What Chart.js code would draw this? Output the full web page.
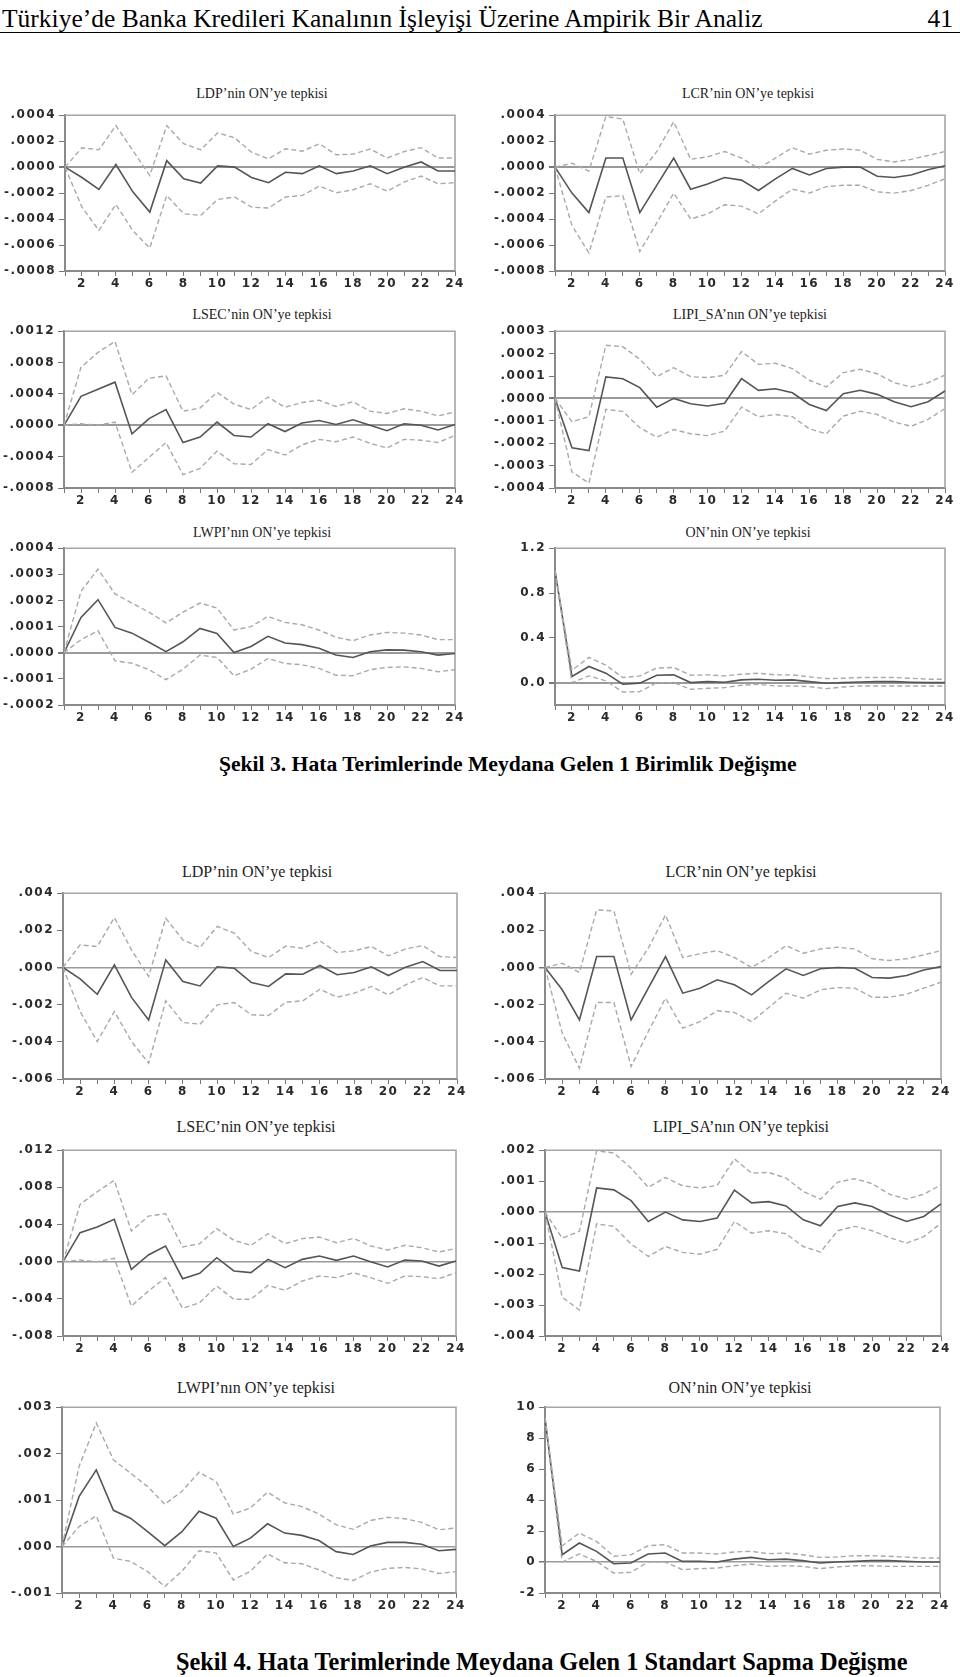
<!DOCTYPE html>
<html><head><meta charset="utf-8">
<script src="https://cdn.jsdelivr.net/npm/chart.js@4.4.1/dist/chart.umd.min.js"></script>
<style>
html,body{margin:0;padding:0;background:#fff;}
body{width:960px;height:1677px;position:relative;overflow:hidden;}
.abs{position:absolute;}
.hdr{font-family:"Liberation Serif","Times New Roman",serif;font-size:25.5px;color:#000;white-space:nowrap;line-height:1;}
.rule{left:0;width:960px;height:1px;background:#000;top:32px;}
.ttl{font-family:"Liberation Serif","Times New Roman",serif;color:#222;white-space:nowrap;transform:translate(-50%,-50%);line-height:1;}
.cap{font-family:"Liberation Serif","Times New Roman",serif;font-weight:bold;color:#000;white-space:nowrap;line-height:1;transform:translateY(-50%);}
</style>
</head><body>
<div class="abs hdr" style="left:2px;top:6px;">Türkiye’de Banka Kredileri Kanalının İşleyişi Üzerine Ampirik Bir Analiz</div>
<div class="abs hdr" style="right:7px;top:6px;">41</div>
<div class="abs rule"></div>
<div class="abs cap" style="left:219px;top:765px;font-size:21.6px;">Şekil 3. Hata Terimlerinde Meydana Gelen 1 Birimlik Değişme</div>
<div class="abs cap" style="left:176px;top:1662px;font-size:24.3px;">Şekil 4. Hata Terimlerinde Meydana Gelen 1 Standart Sapma Değişme</div>
<script>
// ---------- categories ----------
const PERIODS = [1,2,3,4,5,6,7,8,9,10,11,12,13,14,15,16,17,18,19,20,21,22,23,24];

// ---------- Şekil 3 ----------
const LDP3_RESP = [0,-0.00008,-0.000172,0.00002,-0.00019,-0.000346,0.00005,-0.00009,-0.000123,0.00001,0,-0.00008,-0.00012,-0.00004,-0.00005,0.00001,-0.00005,-0.00003,0.00001,-0.00005,0,0.00004,-0.00003,-0.00003];
const LDP3_UP   = [0,0.000149,0.000133,0.00032,0.000128,-0.000064,0.00032,0.00018,0.000133,0.000264,0.000226,0.000115,0.000064,0.000141,0.000123,0.00018,0.000095,0.0001,0.00014,0.00007,0.00012,0.00015,0.00007,0.00007];
const LDP3_LO   = [0,-0.000308,-0.000487,-0.000287,-0.00049,-0.000623,-0.000218,-0.000359,-0.000372,-0.000249,-0.00023,-0.000308,-0.000315,-0.00023,-0.000218,-0.000146,-0.000197,-0.000174,-0.000128,-0.000185,-0.000115,-0.000069,-0.000128,-0.00012];
const LDP3_YTICKS = ['-.0008','-.0006','-.0004','-.0002','.0000','.0002','.0004'];

const LCR3_RESP = [0,-0.0002,-0.00035,0.00007,0.00007,-0.00035,-0.00014,0.00007,-0.00017,-0.00013,-0.00008,-0.0001,-0.00018,-0.00009,-0.00001,-0.00006,-0.00001,0,0,-0.00007,-0.00008,-0.00006,-0.00002,0.00001];
const LCR3_UP   = [0,0.00003,-0.00003,0.00039,0.00037,-0.00005,0.00012,0.00035,0.00006,0.00008,0.00012,0.00007,-0.00001,0.00007,0.00015,0.0001,0.00013,0.00014,0.00013,0.00006,0.00004,0.00006,0.00009,0.00012];
const LCR3_LO   = [0,-0.00045,-0.00066,-0.00023,-0.00022,-0.00065,-0.00043,-0.0002,-0.0004,-0.00036,-0.00029,-0.0003,-0.00036,-0.00026,-0.00017,-0.0002,-0.00015,-0.00014,-0.00014,-0.00019,-0.0002,-0.00018,-0.00014,-0.00009];
const LCR3_YTICKS = ['-.0008','-.0006','-.0004','-.0002','.0000','.0002','.0004'];

const LSEC3_RESP = [0,0.00037,0.00046,0.00055,-0.00011,0.000086,0.0002,-0.00022,-0.00015,0.00004,-0.00013,-0.00015,0.00002,-0.00008,0.00003,0.00006,0.00001,0.00007,0,-0.00007,0.00002,0,-0.00006,0.00001];
const LSEC3_UP   = [0,0.00074,0.00093,0.00107,0.00039,0.0006,0.00063,0.00018,0.00022,0.00042,0.00027,0.0002,0.00036,0.00023,0.00029,0.00032,0.00024,0.0003,0.00018,0.00015,0.00021,0.00018,0.00012,0.00017];
const LSEC3_LO   = [0,0.00002,0,0.00004,-0.0006,-0.00041,-0.00022,-0.00063,-0.00055,-0.00033,-0.00049,-0.0005,-0.00031,-0.00038,-0.00025,-0.00018,-0.00021,-0.00015,-0.00023,-0.00029,-0.00018,-0.00019,-0.00022,-0.00013];
const LSEC3_YTICKS = ['-.0008','-.0004','.0000','.0004','.0008','.0012'];

const LIPI3_RESP = [0,-0.00022,-0.000233,0.000096,0.000088,0.000048,-0.000039,0,-0.000024,-0.000034,-0.000022,0.000088,0.000036,0.000043,0.000025,-0.000027,-0.000054,0.000021,0.000036,0.000018,-0.000015,-0.000037,-0.000015,0.000033];
const LIPI3_UP   = [0,-0.000104,-0.000082,0.000237,0.000231,0.000175,0.000097,0.000137,0.000097,0.000093,0.000103,0.000209,0.000152,0.000157,0.000133,0.000081,0.000051,0.000115,0.00013,0.00011,0.00007,0.000051,0.00007,0.000104];
const LIPI3_LO   = [0,-0.000328,-0.000378,-0.000049,-0.000058,-0.000131,-0.000173,-0.000139,-0.000158,-0.000166,-0.000146,-0.000039,-0.000082,-0.000072,-0.000082,-0.000136,-0.000158,-0.000079,-0.000057,-0.000072,-0.000106,-0.000124,-0.000094,-0.000045];
const LIPI3_YTICKS = ['-.0004','-.0003','-.0002','-.0001','.0000','.0001','.0002','.0003'];

const LWPI3_RESP = [0,0.000135,0.000203,0.000097,0.000075,0.00004,0.000004,0.000042,0.000093,0.000074,0.000001,0.000024,0.000063,0.000037,0.000031,0.000017,-0.000009,-0.000018,0.000004,0.000011,0.00001,0.000004,-0.000009,-0.000003];
const LWPI3_UP   = [0,0.000235,0.00032,0.000225,0.00019,0.000155,0.000114,0.000155,0.00019,0.000171,0.000087,0.0001,0.000139,0.000116,0.000107,0.000087,0.000059,0.000046,0.000068,0.000078,0.000075,0.000068,0.00005,0.00005];
const LWPI3_LO   = [0,0.00005,0.000084,-0.000031,-0.00004,-0.000065,-0.000103,-0.000063,-0.000009,-0.000018,-0.000088,-0.000063,-0.000022,-0.000041,-0.000046,-0.00006,-0.000086,-0.000088,-0.000065,-0.000056,-0.000054,-0.00006,-0.000073,-0.000065];
const LWPI3_YTICKS = ['-.0002','-.0001','.0000','.0001','.0002','.0003','.0004'];

const ON3_RESP = [1.0,0.054,0.144,0.084,-0.015,-0.005,0.066,0.069,0,0.009,0.003,0.024,0.03,0.021,0.024,0.009,-0.006,0,0.006,0.009,0.009,0.003,0,0];
const ON3_UP   = [1.0,0.11,0.225,0.156,0.045,0.06,0.13,0.135,0.066,0.069,0.06,0.075,0.084,0.069,0.069,0.051,0.036,0.039,0.045,0.045,0.045,0.039,0.03,0.03];
const ON3_LO   = [1.0,0,0.06,0.015,-0.084,-0.081,0,0,-0.06,-0.051,-0.045,-0.024,-0.015,-0.03,-0.03,-0.036,-0.054,-0.039,-0.03,-0.03,-0.03,-0.03,-0.03,-0.03];
const ON3_YTICKS = ['0.0','0.4','0.8','1.2'];
const ON3_YMIN = -0.2;

// ---------- Şekil 4 ----------
const LDP4_RESP = [0,-0.00061,-0.00144,0.00014,-0.00161,-0.00282,0.00041,-0.00075,-0.00099,0.00004,-0.00004,-0.00081,-0.00102,-0.00034,-0.00036,0.00011,-0.00039,-0.00027,0.00004,-0.00043,0.00002,0.00032,-0.00016,-0.00016];
const LDP4_UP   = [0,0.00122,0.00113,0.00269,0.00095,-0.00048,0.00265,0.00149,0.00108,0.00221,0.00185,0.00086,0.00054,0.00115,0.00104,0.00143,0.00081,0.0009,0.00113,0.00063,0.001,0.00118,0.00059,0.00054];
const LDP4_LO   = [0,-0.00237,-0.00398,-0.00237,-0.00398,-0.00515,-0.00179,-0.00296,-0.00305,-0.00201,-0.00188,-0.00255,-0.00258,-0.00187,-0.00179,-0.00117,-0.0016,-0.00138,-0.00102,-0.00147,-0.00093,-0.00054,-0.00099,-0.00099];
const LDP4_YTICKS = ['-.006','-.004','-.002','.000','.002','.004'];

const LCR4_RESP = [0,-0.0012,-0.00282,0.00059,0.00059,-0.00282,-0.00111,0.00059,-0.00138,-0.00111,-0.00066,-0.00093,-0.00147,-0.00075,-0.00007,-0.00043,-0.00007,0,-0.00004,-0.00054,-0.00057,-0.00043,-0.00013,0.00005];
const LCR4_UP   = [0,0.00023,-0.00027,0.0031,0.00305,-0.00036,0.00104,0.00283,0.00054,0.00074,0.00091,0.00054,0,0.00054,0.00118,0.00077,0.001,0.00109,0.001,0.00047,0.00038,0.00047,0.00068,0.00091];
const LCR4_LO   = [0,-0.00353,-0.00542,-0.00188,-0.00188,-0.00533,-0.00344,-0.00165,-0.00326,-0.00291,-0.00233,-0.00242,-0.00291,-0.00215,-0.00138,-0.00165,-0.0012,-0.00108,-0.00111,-0.0016,-0.0016,-0.00144,-0.00111,-0.00079];
const LCR4_YTICKS = ['-.006','-.004','-.002','.000','.002','.004'];

const LSEC4_RESP = [0,0.00312,0.00373,0.00456,-0.00083,0.00072,0.00169,-0.00183,-0.00126,0.00043,-0.001,-0.00118,0.00025,-0.00065,0.00025,0.00061,0.00014,0.00061,0,-0.00057,0.00018,0.00007,-0.00047,0.00007];
const LSEC4_UP   = [0,0.00617,0.00753,0.00875,0.0033,0.00491,0.00517,0.00158,0.00194,0.00355,0.0023,0.00176,0.00301,0.00194,0.00248,0.00265,0.00204,0.00251,0.00169,0.00126,0.00176,0.00151,0.00104,0.00143];
const LSEC4_LO   = [0,0.00018,0,0.00036,-0.00477,-0.00316,-0.00172,-0.00502,-0.00441,-0.00262,-0.00405,-0.00405,-0.00255,-0.00308,-0.00208,-0.00154,-0.00172,-0.00118,-0.00172,-0.00233,-0.00154,-0.00161,-0.00183,-0.00118];
const LSEC4_YTICKS = ['-.008','-.004','.000','.004','.008','.012'];

const LIPI4_RESP = [0,-0.00179,-0.0019,0.00078,0.00072,0.00037,-0.0003,0,-0.00025,-0.0003,-0.00019,0.00071,0.0003,0.00034,0.0002,-0.00025,-0.00044,0.00018,0.0003,0.00018,-0.00009,-0.0003,-0.00014,0.00027];
const LIPI4_UP   = [0,-0.00084,-0.00062,0.00198,0.00191,0.00142,0.0008,0.00112,0.00085,0.00078,0.00086,0.00172,0.00126,0.00128,0.0011,0.00067,0.00042,0.00097,0.00108,0.00092,0.00058,0.00042,0.00058,0.00088];
const LIPI4_LO   = [0,-0.00275,-0.00316,-0.00038,-0.00046,-0.00103,-0.00143,-0.00111,-0.0013,-0.00136,-0.0012,-0.0003,-0.00068,-0.0006,-0.0007,-0.00111,-0.00129,-0.0006,-0.00046,-0.0006,-0.00082,-0.001,-0.00079,-0.00036];
const LIPI4_YTICKS = ['-.004','-.003','-.002','-.001','.000','.001','.002'];

const LWPI4_RESP = [0,0.00108,0.00165,0.00078,0.00061,0.00032,0.00002,0.00032,0.00076,0.00061,0,0.00018,0.00049,0.00029,0.00024,0.00013,-0.00011,-0.00017,0.00001,0.00009,0.00009,0.00005,-0.00009,-0.00006];
const LWPI4_UP   = [0,0.00173,0.00266,0.00187,0.00158,0.00129,0.00091,0.00119,0.0016,0.0014,0.0007,0.00083,0.00117,0.00094,0.00086,0.0007,0.00047,0.00037,0.00056,0.00063,0.0006,0.00052,0.00036,0.0004];
const LWPI4_LO   = [0,0.00043,0.00066,-0.00025,-0.00032,-0.00054,-0.00086,-0.00053,-0.00009,-0.00014,-0.00072,-0.00053,-0.00016,-0.00035,-0.00037,-0.0005,-0.00067,-0.00073,-0.00055,-0.00047,-0.00045,-0.00048,-0.00058,-0.00054];
const LWPI4_YTICKS = ['-.001','.000','.001','.002','.003'];

const ON4_RESP = [9.3,0.47,1.23,0.69,-0.11,-0.06,0.52,0.58,0.04,0.04,0,0.19,0.3,0.15,0.19,0.09,-0.06,0,0.04,0.09,0.09,0.04,0,0];
const ON4_UP   = [9.3,1.05,1.87,1.33,0.37,0.47,1.05,1.12,0.58,0.58,0.52,0.65,0.69,0.54,0.58,0.47,0.3,0.32,0.41,0.41,0.37,0.32,0.26,0.26];
const ON4_LO   = [9.3,0,0.52,0.04,-0.71,-0.67,0,0,-0.49,-0.43,-0.39,-0.24,-0.13,-0.28,-0.24,-0.28,-0.43,-0.32,-0.24,-0.24,-0.28,-0.28,-0.28,-0.28];
const ON4_YTICKS = ['-2','0','2','4','6','8','10'];

// ---------- panel titles ----------
const TITLES3 = ['LDP’nin ON’ye tepkisi','LCR’nin ON’ye tepkisi','LSEC’nin ON’ye tepkisi','LIPI_SA’nın ON’ye tepkisi','LWPI’nın ON’ye tepkisi','ON’nin ON’ye tepkisi'];
const TITLES4 = ['LDP’nin ON’ye tepkisi','LCR’nin ON’ye tepkisi','LSEC’nin ON’ye tepkisi','LIPI_SA’nın ON’ye tepkisi','LWPI’nın ON’ye tepkisi','ON’nin ON’ye tepkisi'];

// ---------- layout (plot area boxes: left, top, right, bottom; title centre) ----------
const PANELS = [
  {title:TITLES3[0], tsize:14, tx:262, ty:94,  box:[65,115,455,271],   resp:LDP3_RESP, up:LDP3_UP, lo:LDP3_LO, yt:LDP3_YTICKS},
  {title:TITLES3[1], tsize:14, tx:748, ty:94,  box:[555,115,945,271],  resp:LCR3_RESP, up:LCR3_UP, lo:LCR3_LO, yt:LCR3_YTICKS},
  {title:TITLES3[2], tsize:14, tx:262, ty:315, box:[64,331,455,488],   resp:LSEC3_RESP, up:LSEC3_UP, lo:LSEC3_LO, yt:LSEC3_YTICKS},
  {title:TITLES3[3], tsize:14, tx:750, ty:315, box:[555,331,945,488],  resp:LIPI3_RESP, up:LIPI3_UP, lo:LIPI3_LO, yt:LIPI3_YTICKS},
  {title:TITLES3[4], tsize:14, tx:262, ty:533, box:[64,548,455,705],   resp:LWPI3_RESP, up:LWPI3_UP, lo:LWPI3_LO, yt:LWPI3_YTICKS},
  {title:TITLES3[5], tsize:14, tx:748, ty:533, box:[555,548,945,705],  resp:ON3_RESP, up:ON3_UP, lo:ON3_LO, yt:ON3_YTICKS, ymin:ON3_YMIN},
  {title:TITLES4[0], tsize:16, tx:257, ty:872, box:[63,893,457,1079],  resp:LDP4_RESP, up:LDP4_UP, lo:LDP4_LO, yt:LDP4_YTICKS, thin:true},
  {title:TITLES4[1], tsize:16, tx:741, ty:872, box:[545,893,941,1079], resp:LCR4_RESP, up:LCR4_UP, lo:LCR4_LO, yt:LCR4_YTICKS, thin:true},
  {title:TITLES4[2], tsize:16, tx:256, ty:1127, box:[63,1150,456,1336], resp:LSEC4_RESP, up:LSEC4_UP, lo:LSEC4_LO, yt:LSEC4_YTICKS, thin:true},
  {title:TITLES4[3], tsize:16, tx:741, ty:1127, box:[545,1150,941,1336], resp:LIPI4_RESP, up:LIPI4_UP, lo:LIPI4_LO, yt:LIPI4_YTICKS, thin:true},
  {title:TITLES4[4], tsize:16, tx:256, ty:1388, box:[62,1407,456,1593], resp:LWPI4_RESP, up:LWPI4_UP, lo:LWPI4_LO, yt:LWPI4_YTICKS, thin:true},
  {title:TITLES4[5], tsize:16, tx:740, ty:1388, box:[545,1407,940,1593], resp:ON4_RESP, up:ON4_UP, lo:ON4_LO, yt:ON4_YTICKS, thin:true}
];

const framePlugin = {
  id:'frame',
  beforeDraw(chart){ chart.ctx.letterSpacing = '1.5px'; },
  beforeDatasetsDraw(chart){
    const a = chart.chartArea, c = chart.ctx;
    c.save();
    c.strokeStyle = '#a6a6a6'; c.lineWidth = 1.6;
    c.beginPath();
    c.moveTo(a.left, a.top); c.lineTo(a.right, a.top); c.lineTo(a.right, a.bottom);
    c.stroke();
    c.restore();
  },
  afterDraw(chart){ chart.ctx.letterSpacing = '0px'; }
};

const TICK_FONT = {family:'"DejaVu Sans", sans-serif', size:12, weight:'bold'};
const Y_W = 62, PT = 10, PR = 14, X_H = 24;

function makePanel(p){
  const t = document.createElement('div');
  t.className = 'abs ttl';
  t.style.left = p.tx + 'px'; t.style.top = p.ty + 'px'; t.style.fontSize = p.tsize + 'px';
  t.textContent = p.title;
  document.body.appendChild(t);

  const [L,T,R,B] = p.box;
  const wrap = document.createElement('div');
  wrap.className = 'abs';
  wrap.style.left = (L - Y_W) + 'px';
  wrap.style.top = (T - PT) + 'px';
  wrap.style.width = (R - L + Y_W + PR) + 'px';
  wrap.style.height = (B - T + PT + X_H) + 'px';
  const cv = document.createElement('canvas');
  wrap.appendChild(cv);
  document.body.appendChild(wrap);

  const vals = p.yt.map(Number);
  const ymin = (p.ymin !== undefined) ? p.ymin : vals[0];
  const ymax = vals[vals.length - 1];
  const bandStyle = {borderColor:'#a9a9a9', borderWidth:1.4, borderDash:[5,3], pointRadius:0, tension:0, fill:false};

  new Chart(cv, {
    type:'line',
    data:{
      labels:PERIODS,
      datasets:[
        Object.assign({label:'upper', data:p.up}, bandStyle),
        Object.assign({label:'lower', data:p.lo}, bandStyle),
        {label:'response', data:p.resp, borderColor:'#555', borderWidth:1.6, pointRadius:0, tension:0, fill:false}
      ]
    },
    options:{
      responsive:true, maintainAspectRatio:false, animation:false, devicePixelRatio:1,
      layout:{padding:{top:PT, right:PR, left:0, bottom:0}},
      plugins:{legend:{display:false}, tooltip:{enabled:false}, title:{display:false}},
      scales:{
        x:{
          type:'category', offset:false,
          grid:{drawOnChartArea:false, drawTicks:true, tickLength:5, tickColor:'#777', tickWidth:1},
          border:{color:'#8a8a8a', width:2},
          ticks:{autoSkip:false, maxRotation:0, minRotation:0, padding:1, color:'#2a2a2a', font:TICK_FONT,
                 callback:(v,i)=> (PERIODS[i] % 2 === 0) ? String(PERIODS[i]) : ''},
          afterFit:s=>{ s.height = X_H; }
        },
        y:{
          type:'linear', min:ymin, max:ymax,
          afterBuildTicks:s=>{ s.ticks = vals.map(v=>({value:v})); },
          ticks:{padding:3, color:'#2a2a2a', font:TICK_FONT, callback:(v,i)=> p.yt[i]},
          grid:{
            color:c=> (c.tick && Math.abs(c.tick.value) < 1e-12) ? '#9a9a9a' : 'rgba(0,0,0,0)',
            lineWidth:c=> (c.tick && Math.abs(c.tick.value) < 1e-12) ? (p.thin ? 1.5 : 2) : 1,
            tickColor:'#777', tickLength:6, drawTicks:true
          },
          border:{color:'#8a8a8a', width:2},
          afterFit:s=>{ s.width = Y_W; }
        }
      }
    },
    plugins:[framePlugin]
  });
}

PANELS.forEach(makePanel);
</script>
</body></html>
